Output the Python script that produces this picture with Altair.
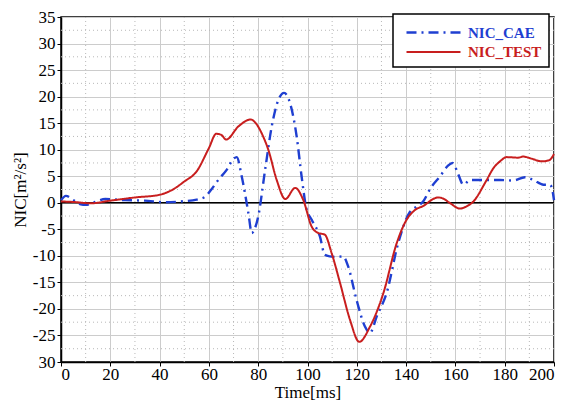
import altair as alt
import pandas as pd

# ---- data ----
series_names = ["NIC_CAE", "NIC_TEST"]
series_colors = ["#1f3fd1", "#c81e1e"]

cae_t = [0, 2, 5, 8, 10, 13, 18, 26, 34, 42, 50, 55, 58.4, 61, 63.8, 67.2, 70, 71.3, 73.3, 76,
         77.4, 78.5, 80, 82.8, 85.5, 88.2, 90.5, 92.9, 95.6, 97.6, 99.5, 101.7, 105, 107, 109,
         111.8, 114.5, 116.5, 119.9, 123.3, 125.4, 128.1, 132.1, 136.8, 141.6, 144, 147, 150,
         153.8, 157, 158.9, 161.2, 163.2, 166, 172.7, 178, 183.4, 188.2, 191.6, 195.7, 198.4,
         199.5, 200]
cae_v = [0.5, 1.3, 0.5, -0.3, -0.4, 0, 0.7, 0.5, 0.4, 0.1, 0.3, 0.6, 1.1, 2.5, 4.3, 6.2, 8.3,
         8.6, 5.0, -1.9, -5.7, -5.0, -2.6, 6.2, 14.4, 19.4, 20.7, 18.8, 12.5, 5.0, -1.0, -3.2,
         -6.3, -9.8, -10.1, -10.2, -10.1, -12.0, -18.3, -23.3, -24.5, -21.4, -17.0, -7.6, -1.7,
         -0.8, 0.3, 2.8, 5.0, 7.0, 7.5, 5.3, 3.4, 4.3, 4.3, 4.3, 4.2, 4.8, 4.3, 3.4, 3.4, 2.0, 0.5]

test_t = [0, 5, 12, 20, 30, 40, 45, 50, 55, 60, 63, 65, 67, 72, 77, 79, 82, 84.1, 87.5, 91, 95,
          98.3, 101.7, 104.4, 107, 109.8, 113.2, 117.2, 121, 125.4, 130.8, 136.2, 140.2, 143,
          147.7, 150.4, 153, 155, 157.8, 161.9, 164, 167.3, 172.7, 175.4, 178.1, 180.8, 185.5,
          187.5, 191, 195, 198, 200]
test_v = [0.25, 0.15, -0.1, 0.4, 1.0, 1.5, 2.4, 4.0, 5.9, 10.3, 13.0, 12.8, 11.9, 14.4, 15.7,
          15.0, 12.5, 10.0, 4.3, 0.7, 2.8, 0.5, -4.5, -5.7, -6.0, -9.5, -15.1, -22.0, -26.2,
          -23.3, -17.0, -7.6, -3.2, -1.6, -0.4, 0.56, 1.0, 0.8, -0.06, -1.1, -0.8, 0.25, 4.3,
          6.5, 7.8, 8.6, 8.5, 8.7, 8.3, 7.8, 8.0, 9.2]

x_ticks = list(range(0, 201, 20))
y_ticks = list(range(-30, 36, 5))
x_minor = list(range(10, 200, 20))
y_minor = [v + 2.5 for v in range(-30, 35, 5)]
zero_line = [0]

FONT = "Liberation Serif"

df = pd.concat([
    pd.DataFrame({"t": cae_t, "v": cae_v, "series": series_names[0]}),
    pd.DataFrame({"t": test_t, "v": test_v, "series": series_names[1]}),
])

xs = alt.Scale(domain=[0, 200], nice=False, zero=False)
ys = alt.Scale(domain=[-30, 35], nice=False, zero=False)
axis_style = dict(
    labelFont=FONT, labelFontSize=17, labelColor="black",
    titleFont=FONT, titleFontSize=17, titleFontWeight="normal", titleColor="black",
    domainColor="black", domainWidth=1.5, tickColor="black", tickSize=4,
    gridColor="#cccccc", gridWidth=1, grid=True,
)
x_axis = alt.Axis(values=x_ticks, title="Time[ms]", format="d", labelPadding=0,
                  titlePadding=2, **axis_style)
y_axis = alt.Axis(values=y_ticks, title="NIC[m²/s²]", labelPadding=2, titlePadding=3,
                  labelExpr="datum.value == -30 ? '30' : toString(datum.value)", **axis_style)

minor_x = alt.Chart(pd.DataFrame({"t": x_minor})).mark_rule(
    color="#b8b8b8", strokeDash=[1, 3], strokeWidth=1
).encode(x=alt.X("t:Q", scale=xs, axis=x_axis))

minor_y = alt.Chart(pd.DataFrame({"v": y_minor})).mark_rule(
    color="#b8b8b8", strokeDash=[1, 3], strokeWidth=1
).encode(y=alt.Y("v:Q", scale=ys, axis=y_axis))

zero = alt.Chart(pd.DataFrame({"v": zero_line})).mark_rule(
    color="black", strokeWidth=1.5
).encode(y=alt.Y("v:Q", scale=ys, axis=y_axis))

legend = alt.Legend(
    title=None, orient="none", legendX=332, legendY=-3,
    symbolType="M-0.5,0H4.9", symbolSize=400, symbolStrokeWidth=2.2,
    labelFont=FONT, labelFontSize=15, labelFontWeight="bold", labelOffset=45,
    labelColor=alt.ExprRef(expr="datum.label == 'NIC_CAE' ? '#1f3fd1' : '#c81e1e'"),
    padding=7, strokeColor="black", fillColor="white", rowPadding=-2,
)

lines = alt.Chart(df).mark_line(interpolate="monotone").encode(
    x=alt.X("t:Q", scale=xs, axis=x_axis),
    y=alt.Y("v:Q", scale=ys, axis=y_axis),
    color=alt.Color("series:N", scale=alt.Scale(domain=series_names, range=series_colors),
                    legend=legend),
    strokeDash=alt.StrokeDash("series:N", scale=alt.Scale(domain=series_names,
                              range=[[10, 5, 2, 5], [1, 0]]), legend=legend),
    strokeWidth=alt.StrokeWidth("series:N", scale=alt.Scale(domain=series_names, range=[2.4, 2.0]),
                                legend=None),
)

chart = alt.layer(minor_x, minor_y, zero, lines).properties(
    width=493, height=345,
    padding={"left": 61, "top": 17, "right": 17, "bottom": 42},
    autosize=alt.AutoSizeParams(type="none"),
    background="white",
).configure_view(
    stroke="black", strokeWidth=1.5
).configure_legend(strokeWidth=1.5)

chart.save("out.html", embed_options={"renderer": "svg", "actions": False})
